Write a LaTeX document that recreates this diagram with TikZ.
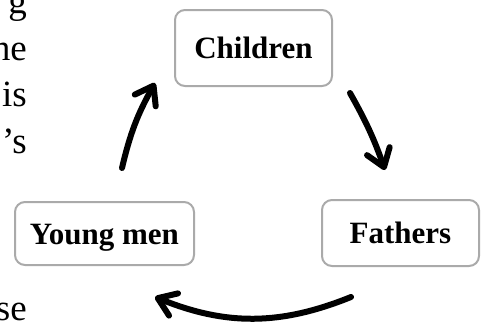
\documentclass[tikz,border=0pt]{standalone}
\usepackage{fontspec}
\setmainfont{Liberation Serif}
\usetikzlibrary{arrows.meta}
\definecolor{boxgray}{RGB}{170,170,170}
\tikzset{
  box/.style={draw=boxgray, line width=2pt, rounded corners=10pt, fill=white,
    font=\bfseries\fontsize{31}{31}\selectfont, text height=21pt, text depth=0pt,
    inner sep=0pt, align=center},
  cyc/.style={line width=6pt, line cap=round,
    -{Straight Barb[round, length=17pt, width=24pt]}},
  frag/.style={anchor=base east, inner sep=0pt, font=\fontsize{37}{37}\selectfont}
}
\begin{document}
\begin{tikzpicture}[x=1pt,y=-1pt]
\useasboundingbox (0,0) rectangle (481,322);
\clip (0,0) rectangle (481,322);
% text fragments at left
\node[frag] (f1) at (27,13) {g};
\node[frag] (f2) at (27,60) {he};
\node[frag] (f3) at (27,106) {is};
\node[frag] (f4) at (27,153) {’s};
\node[frag] (f5) at (27,320) {se};
% boxes
\node[box, minimum width=157pt, minimum height=76pt] (ch) at (253.5,48) {Children};
\node[box, minimum width=157pt, minimum height=66pt] (fa) at (400.5,233) {Fathers};
\node[box, minimum width=179pt, minimum height=63pt] (ym) at (104.5,233.5) {Young men};
% arrow ends
\coordinate (a1s) at (350,93);
\coordinate (a1e) at (385,170);
\coordinate (a2s) at (351,297);
\coordinate (a2e) at (155,297);
\coordinate (a3s) at (122,168);
\coordinate (a3e) at (155,83);
\draw[cyc] (a1s) to[bend left=5] (a1e);
\draw[cyc] (a2s) to[bend left=22] (a2e);
\draw[cyc] (a3s) to[bend left=8] (a3e);
\end{tikzpicture}
\end{document}
